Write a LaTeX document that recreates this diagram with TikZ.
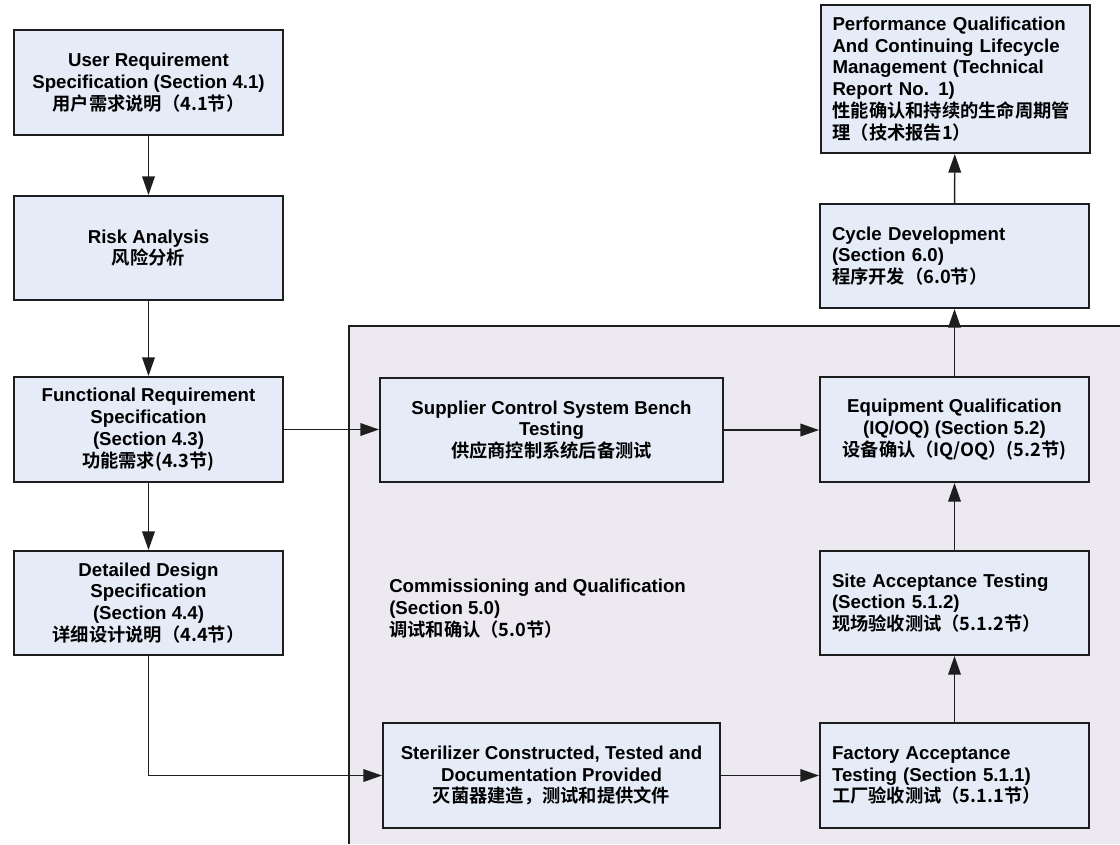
\documentclass[tikz,border=0pt]{standalone}
\usepackage{fontspec}
\setmainfont{Liberation Sans}
\newfontfamily\cjk{Noto Sans CJK SC}[BoldFont={Noto Sans CJK SC Bold}]
\newcommand\zhtext[1]{{\cjk\fontsize{13.7}{16.3}\selectfont #1}}
\usetikzlibrary{arrows.meta}
\definecolor{boxfill}{RGB}{230,236,247}
\definecolor{bgfill}{RGB}{236,233,240}
\definecolor{edge}{RGB}{30,30,30}
\begin{document}
\begin{tikzpicture}[x=0.75pt,y=-0.75pt,
  font=\bfseries\fontsize{14}{16.3}\selectfont,
  box/.style={draw=edge, line width=1.5pt, fill=boxfill, inner sep=0pt,
    minimum width=201.75pt, minimum height=78.75pt},
  cbox/.style={box, align=center},
  lbox/.style={box, align=left, text width=183.75pt},
  conn/.style={draw=edge, line width=1.1pt, -{Triangle[length=14pt,width=9.5pt]}}]
\path[use as bounding box] (0,0) rectangle (1120,844);
% background region
\fill[bgfill] (349,326) rectangle (1120,844);
\draw[edge, line width=1.5pt] (349,844) -- (349,326) -- (1120,326);
% left column
\node[cbox] (urs) at (148.5,82.5) {User Requirement\\Specification (Section 4.1)\\\zhtext{用户需求说明（4.1节）}};
\node[cbox, minimum height=78pt] (risk) at (148.5,248) {Risk Analysis\\\zhtext{风险分析}};
\node[cbox] (frs) at (148.5,429.5) {Functional Requirement\\Specification\\(Section 4.3)\\\zhtext{功能需求(4.3节)}};
\node[cbox, minimum height=78pt] (dds) at (148.5,603) {Detailed Design\\Specification\\(Section 4.4)\\\zhtext{详细设计说明（4.4节）}};
% middle
\node[cbox, minimum width=257.25pt, minimum height=78pt] (sup) at (551.5,430) {Supplier Control System Bench\\Testing\\\zhtext{供应商控制系统后备测试}};
\node[cbox, minimum width=252.75pt] (ster) at (551.5,775.5) {Sterilizer Constructed, Tested and\\Documentation Provided\\\zhtext{灭菌器建造，测试和提供文件}};
\node[anchor=north west, align=left, inner sep=0pt] (cq) at (389,579) {Commissioning and Qualification\\(Section 5.0)\\\zhtext{调试和确认（5.0节）}};
% right column
\node[lbox] (fac) at (954.5,775.5) {Factory Acceptance\\Testing (Section 5.1.1)\\\zhtext{工厂验收测试（5.1.1节）}};
\node[lbox, minimum height=78pt] (site) at (954.5,603) {Site Acceptance Testing\\(Section 5.1.2)\\\zhtext{现场验收测试（5.1.2节）}};
\node[cbox] (eq) at (954.5,429.5) {Equipment Qualification\\(IQ/OQ) (Section 5.2)\\\zhtext{设备确认（IQ/OQ）(5.2节)}};
\node[lbox, minimum height=78pt] (cyc) at (954.5,256) {Cycle Development\\(Section 6.0)\\\zhtext{程序开发（6.0节）}};
\node[lbox, minimum height=111pt] (perf) at (955,79) {Performance Qualification\\And Continuing Lifecycle\\Management (Technical\\Report No. 1)\\\zhtext{性能确认和持续的生命周期管}\\\zhtext{理（技术报告1）}};
% connectors
\draw[conn] (urs) -- (risk);
\draw[conn] (risk) -- (frs);
\draw[conn] (frs) -- (dds);
\draw[conn] (dds.south) |- (ster.west);
\draw[conn] (frs.east) -- (sup.west |- frs.east);
\draw[conn] (sup.east) -- (eq.west |- sup.east);
\draw[conn] (ster) -- (fac);
\draw[conn] (fac) -- (site);
\draw[conn] (site) -- (eq);
\draw[conn] (eq) -- (cyc);
\draw[conn] (cyc) -- (perf);
\end{tikzpicture}
\end{document}
